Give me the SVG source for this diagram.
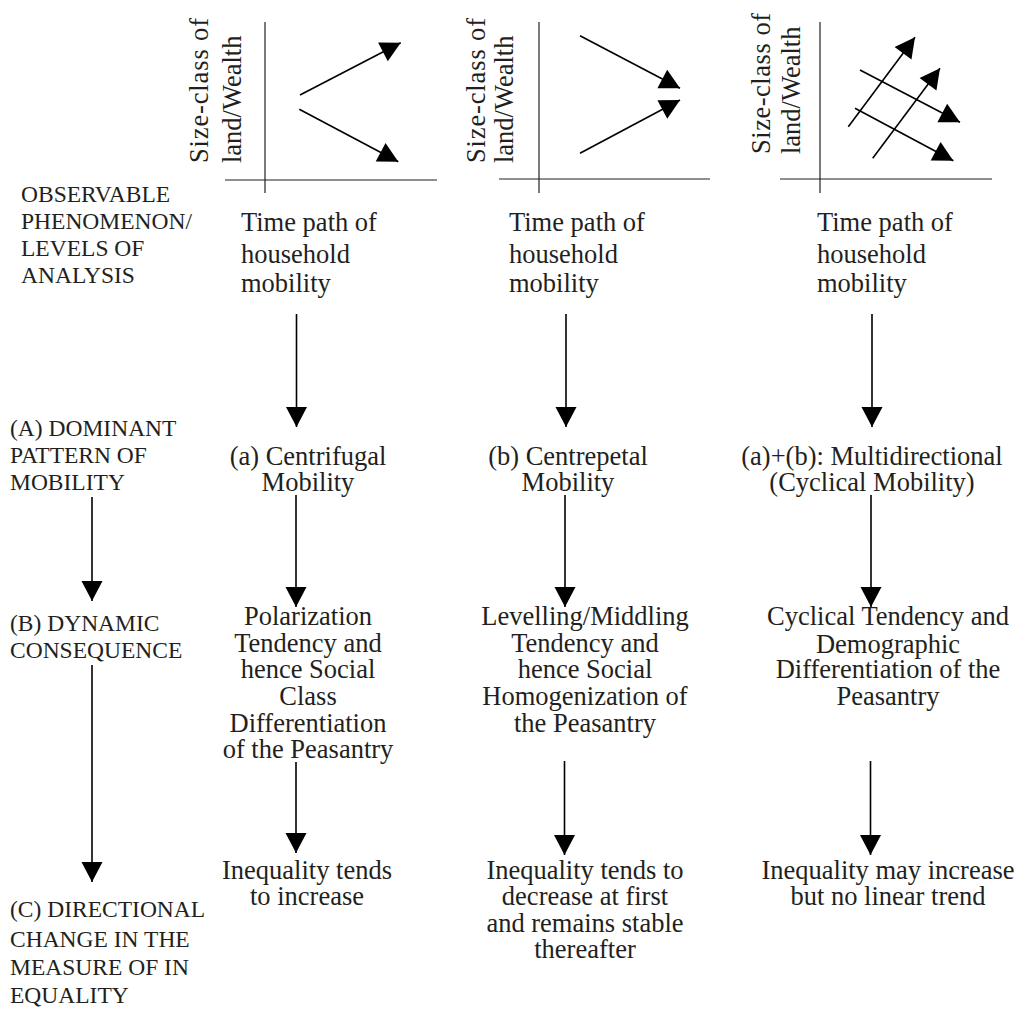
<svg xmlns="http://www.w3.org/2000/svg" width="1022" height="1009" viewBox="0 0 1022 1009">
<style>
text{font-family:"Liberation Serif","Times New Roman",serif;fill:#231f20}
.t{font-size:26.5px}
.c{font-size:26.5px;text-anchor:middle}
.l{font-size:23.5px}
.ax{stroke:#231f20;stroke-width:1.2;fill:none}
.ln{stroke:#000;stroke-width:1.6;fill:none;marker-end:url(#ah)}
</style>
<defs>
<marker id="ah" markerUnits="userSpaceOnUse" markerWidth="21" markerHeight="21" refX="20" refY="10.5" orient="auto" overflow="visible">
<path d="M0,0 L20,10.5 L0,21 z" fill="#000"/>
</marker>
</defs>
<rect width="1022" height="1009" fill="#fff"/>

<g id="chart1">
<line class="ax" x1="265" y1="22" x2="265" y2="193"/>
<line class="ax" x1="225" y1="180" x2="437" y2="180"/>
<text class="t" transform="translate(208,163) rotate(-90)" textLength="145" lengthAdjust="spacing">Size-class of</text>
<text class="t" transform="translate(241,163) rotate(-90)">land/Wealth</text>
<line class="ln" x1="300" y1="95" x2="400.7" y2="42.7"/>
<line class="ln" x1="299.3" y1="109.3" x2="398.3" y2="161.7"/>
</g>

<g id="chart2">
<line class="ax" x1="539" y1="22" x2="539" y2="193"/>
<line class="ax" x1="499" y1="179" x2="710" y2="179"/>
<text class="t" transform="translate(485,163) rotate(-90)" textLength="145" lengthAdjust="spacing">Size-class of</text>
<text class="t" transform="translate(513,163) rotate(-90)">land/Wealth</text>
<line class="ln" x1="580" y1="35.7" x2="680" y2="88.3"/>
<line class="ln" x1="580" y1="153.3" x2="680" y2="100"/>
</g>

<g id="chart3">
<line class="ax" x1="820" y1="22" x2="820" y2="193"/>
<line class="ax" x1="780" y1="179" x2="992" y2="179"/>
<text class="t" transform="translate(770,154) rotate(-90)" textLength="141" lengthAdjust="spacing">Size-class of</text>
<text class="t" transform="translate(800,154) rotate(-90)">land/Wealth</text>
<line class="ln" x1="848.3" y1="126.7" x2="915" y2="37.3"/>
<line class="ln" x1="872.7" y1="158.3" x2="940" y2="68.3"/>
<line class="ln" x1="860" y1="70" x2="960" y2="122.3"/>
<line class="ln" x1="855" y1="108.3" x2="953.3" y2="160.7"/>
</g>

<g id="label-observable">
<text class="l" x="21" y="201.7">OBSERVABLE</text>
<text class="l" x="21" y="228.5">PHENOMENON/</text>
<text class="l" x="21" y="256">LEVELS OF</text>
<text class="l" x="21" y="283.3">ANALYSIS</text>
</g>
<g id="label-A">
<text class="l" x="10" y="436">(A) DOMINANT</text>
<text class="l" x="10" y="462.7">PATTERN OF</text>
<text class="l" x="10" y="490">MOBILITY</text>
</g>
<g id="label-B">
<text class="l" x="10" y="631">(B) DYNAMIC</text>
<text class="l" x="10" y="658">CONSEQUENCE</text>
</g>
<g id="label-C">
<text class="l" x="10" y="917">(C) DIRECTIONAL</text>
<text class="l" x="10" y="946.5">CHANGE IN THE</text>
<text class="l" x="10" y="975">MEASURE OF IN</text>
<text class="l" x="10" y="1003">EQUALITY</text>
</g>

<g id="time1">
<text class="t" x="241" y="230.7">Time path of</text>
<text class="t" x="241" y="263.3">household</text>
<text class="t" x="241" y="291.7">mobility</text>
</g>
<g id="time2">
<text class="t" x="509" y="230.7">Time path of</text>
<text class="t" x="509" y="263.3">household</text>
<text class="t" x="509" y="291.7">mobility</text>
</g>
<g id="time3">
<text class="t" x="817" y="230.7">Time path of</text>
<text class="t" x="817" y="263.3">household</text>
<text class="t" x="817" y="291.7">mobility</text>
</g>

<g id="patternA1">
<text class="c" x="308" y="465">(a) Centrifugal</text>
<text class="c" x="308" y="490.7">Mobility</text>
</g>
<g id="patternA2">
<text class="c" x="568" y="465">(b) Centrepetal</text>
<text class="c" x="568" y="490.7">Mobility</text>
</g>
<g id="patternA3">
<text class="c" x="872" y="465">(a)+(b): Multidirectional</text>
<text class="c" x="872" y="490.7">(Cyclical Mobility)</text>
</g>

<g id="conseqB1">
<text class="c" x="308" y="625">Polarization</text>
<text class="c" x="308" y="651.7">Tendency  and</text>
<text class="c" x="308" y="678">hence Social</text>
<text class="c" x="308" y="705">Class</text>
<text class="c" x="308" y="731.7">Differentiation</text>
<text class="c" x="308" y="758">of the Peasantry</text>
</g>
<g id="conseqB2">
<text class="c" x="585" y="625">Levelling/Middling</text>
<text class="c" x="585" y="651.7">Tendency  and</text>
<text class="c" x="585" y="678">hence Social</text>
<text class="c" x="585" y="705">Homogenization of</text>
<text class="c" x="585" y="731.7">the  Peasantry</text>
</g>
<g id="conseqB3">
<text class="c" x="888" y="625">Cyclical Tendency and</text>
<text class="c" x="888" y="652.7">Demographic</text>
<text class="c" x="888" y="678">Differentiation of the</text>
<text class="c" x="888" y="705">Peasantry</text>
</g>

<g id="changeC1">
<text class="c" x="307" y="879">Inequality tends</text>
<text class="c" x="307" y="905">to increase</text>
</g>
<g id="changeC2">
<text class="c" x="585" y="879">Inequality tends to</text>
<text class="c" x="585" y="905">decrease at first</text>
<text class="c" x="585" y="932">and remains stable</text>
<text class="c" x="585" y="958">thereafter</text>
</g>
<g id="changeC3">
<text class="c" x="888" y="879">Inequality may increase</text>
<text class="c" x="888" y="905">but no linear trend</text>
</g>

<g id="connectors">
<line class="ln" x1="92" y1="497" x2="92" y2="601"/>
<line class="ln" x1="92" y1="665" x2="92" y2="882"/>
<line class="ln" x1="296.5" y1="314" x2="296.5" y2="427"/>
<line class="ln" x1="566" y1="314" x2="566" y2="427"/>
<line class="ln" x1="872" y1="314" x2="872" y2="427"/>
<line class="ln" x1="296" y1="495" x2="296" y2="607"/>
<line class="ln" x1="565" y1="495" x2="565" y2="607"/>
<line class="ln" x1="871" y1="495" x2="871" y2="607"/>
<line class="ln" x1="296" y1="762" x2="296" y2="853"/>
<line class="ln" x1="564.5" y1="761" x2="564.5" y2="855"/>
<line class="ln" x1="870.5" y1="761" x2="870.5" y2="855"/>
</g>
</svg>
